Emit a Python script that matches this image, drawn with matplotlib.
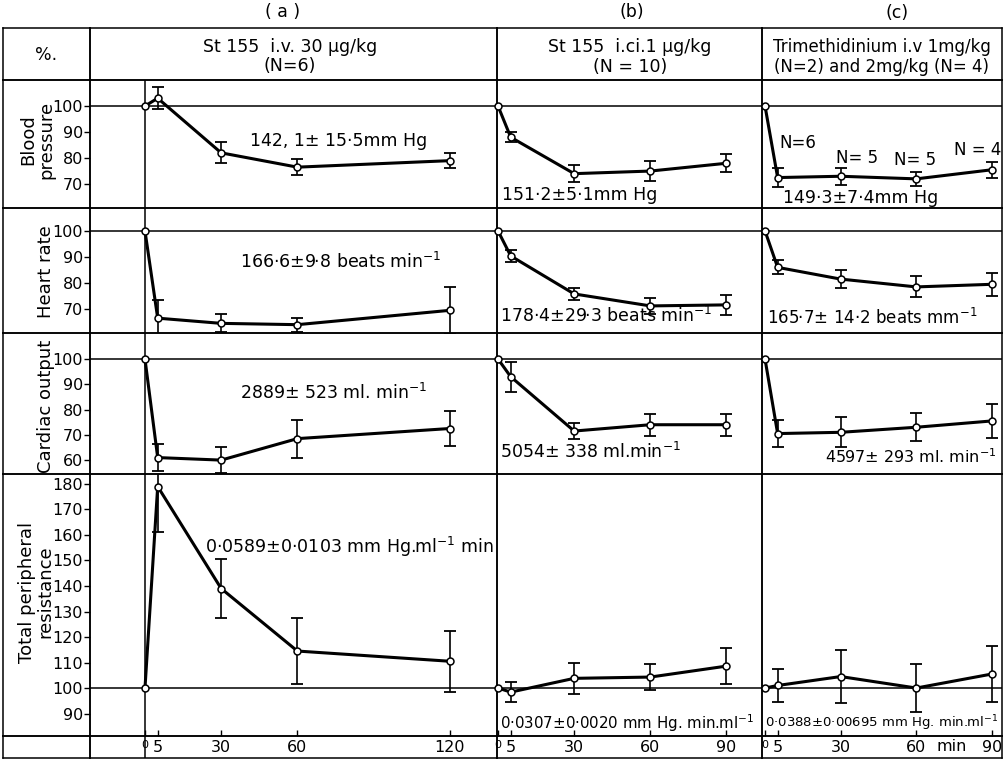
import matplotlib.pyplot as plt

plt.rcParams['font.family'] = ['DejaVu Sans']
plt.rcParams['mathtext.default'] = 'regular'

# --- time points (min) ---
times_a = [0, 5, 30, 60, 120]
times_bc = [0, 5, 30, 60, 90]

# --- (a) St 155 i.v. 30 ug/kg, % of control (mean, s.e.) ---
bp_a = [100, 103, 82, 76.5, 79]
bp_a_err = [0, 4.3, 4, 3, 3]
hr_a = [100, 66.5, 64.5, 64, 69.5]
hr_a_err = [0, 7, 3.5, 2.7, 9]
co_a = [100, 61, 60, 68.5, 72.5]
co_a_err = [0, 5.5, 5, 7.5, 7]
tpr_a = [100, 179, 139, 114.5, 110.5]
tpr_a_err = [0, 18, 11.5, 13, 12]

# --- (b) St 155 i.c.t. 1 ug/kg ---
bp_b = [100, 88, 74, 75, 78]
bp_b_err = [0, 2, 3.3, 4, 3.4]
hr_b = [100, 90.4, 75.8, 71.2, 71.6]
hr_b_err = [0, 2.3, 2.3, 3, 3.8]
co_b = [100, 93, 71.5, 74, 74]
co_b_err = [0, 6, 3, 4.3, 4.3]
tpr_b = [100, 98.4, 103.8, 104.3, 108.6]
tpr_b_err = [0, 4, 6, 5, 7]

# --- (c) Trimethidinium i.v. ---
bp_c = [100, 72.5, 73, 72, 75.5]
bp_c_err = [0, 3.5, 3.2, 2.7, 3]
hr_c = [100, 86, 81.5, 78.5, 79.5]
hr_c_err = [0, 2.7, 3.4, 4, 4.5]
co_c = [100, 70.5, 71, 73, 75.5]
co_c_err = [0, 5.5, 6, 5.5, 6.7]
tpr_c = [100, 101, 104.5, 100, 105.5]
tpr_c_err = [0, 6.5, 10.5, 9.5, 11]

bp_ticks = [70, 80, 90, 100]
hr_ticks = [70, 80, 90, 100]
co_ticks = [60, 70, 80, 90, 100]
tpr_ticks = [90, 100, 110, 120, 130, 140, 150, 160, 170, 180]

x_tick_labels_a = ['0', '5', '30', '60', '120']
x_tick_labels_bc = ['0', '5', '30', '60', '90']

W, H = 1006, 762
fig = plt.figure(figsize=(W / 100, H / 100), dpi=100)


def px_box(x0, y0, x1, y1):
    return [x0 / W, 1 - y1 / H, (x1 - x0) / W, (y1 - y0) / H]


def px_text(x, y, s, **kw):
    kw.setdefault('fontsize', 12.5)
    kw.setdefault('va', 'center')
    fig.text(x / W, 1 - y / H, s, **kw)


def cell(x0, y0, x1, y1):
    ax = fig.add_axes(px_box(x0, y0, x1, y1))
    ax.patch.set_visible(False)
    ax.set_xticks([])
    ax.set_yticks([])
    for s in ax.spines.values():
        s.set_linewidth(1.1)
    return ax


# column extents (px) and time scale of each panel
cols = {'a': (90, 497), 'b': (497, 762), 'c': (762, 1002)}
xlims = {'a': (-21.65, 138.6), 'b': (-0.4, 104.0), 'c': (-1.2, 94.0)}

rows = [
    # name, top, bottom, ylim, yticks, data per panel
    ('bp', 80, 208, (60.8, 110), bp_ticks,
     {'a': (times_a, bp_a, bp_a_err), 'b': (times_bc, bp_b, bp_b_err), 'c': (times_bc, bp_c, bp_c_err)}),
    ('hr', 208, 333, (60.8, 108.8), hr_ticks,
     {'a': (times_a, hr_a, hr_a_err), 'b': (times_bc, hr_b, hr_b_err), 'c': (times_bc, hr_c, hr_c_err)}),
    ('co', 333, 474, (54.5, 110.3), co_ticks,
     {'a': (times_a, co_a, co_a_err), 'b': (times_bc, co_b, co_b_err), 'c': (times_bc, co_c, co_c_err)}),
    ('tpr', 474, 736, (81.2, 183.9), tpr_ticks,
     {'a': (times_a, tpr_a, tpr_a_err), 'b': (times_bc, tpr_b, tpr_b_err), 'c': (times_bc, tpr_c, tpr_c_err)}),
]

# header row
cell(3, 28, 90, 80)
for p, (x0, x1) in cols.items():
    cell(x0, 28, x1, 80)

for name, top, bot, ylim, yticks, data in rows:
    cell(3, top, 90, bot)
    for p, (x0, x1) in cols.items():
        ax = cell(x0, top, x1, bot)
        ax.set_xlim(*xlims[p])
        ax.set_ylim(*ylim)
        ax.axhline(100, color='k', lw=1.1)
        if p == 'a':
            ax.axvline(0, color='k', lw=1.1)
            ax.set_yticks(yticks)
            ax.tick_params(axis='y', direction='out', length=4, width=1,
                           labelsize=11.5, pad=1)
        t, v, e = data[p]
        ax.errorbar(t[1:], v[1:], yerr=e[1:], fmt='none', ecolor='k',
                    elinewidth=1.2, capsize=4, capthick=1.3)
        ax.plot(t, v, '-o', color='k', lw=2.2, ms=5, mfc='white', mec='k',
                mew=1.1, clip_on=False, zorder=3)
        if name == 'tpr':
            ax.set_xticks(t)
            ax.set_xticklabels(x_tick_labels_a if p == 'a' else x_tick_labels_bc)
            ax.tick_params(axis='x', direction='in', length=4, width=1,
                           labelsize=11.5, pad=3)
            ax.get_xticklabels()[0].set_fontsize(8)
            if p == 'c':
                ax.text(74, -3 / 262, 'min', transform=ax.get_xaxis_transform(),
                        ha='center', va='top', fontsize=11.5)

# time axis row
cell(3, 736, 90, 758)
for p, (x0, x1) in cols.items():
    ax = cell(x0, 736, x1, 758)
    ax.set_xlim(*xlims[p])
    if p == 'a':
        ax.axvline(0, color='k', lw=1.1)

# panel letters and headers
px_text(283, 12, '( a )', ha='center')
px_text(632, 12, '(b)', ha='center')
px_text(897, 13, '(c)', ha='center')
px_text(46, 55, '%.', ha='center')
px_text(290, 47, 'St 155  i.v. 30 µg/kg', ha='center')
px_text(290, 66, '(N=6)', ha='center')
px_text(630, 47, 'St 155  i.ci.1 µg/kg', ha='center')
px_text(630, 67, '(N = 10)', ha='center')
px_text(882, 47, 'Trimethidinium i.v 1mg/kg', ha='center', fontsize=12)
px_text(882, 67, '(N=2) and 2mg/kg (N= 4)', ha='center', fontsize=12)

# row labels
lab_kw = dict(rotation=90, ha='center', fontsize=13, linespacing=1.0,
              multialignment='center')
px_text(37, 140, 'Blood\npressure', **lab_kw)
px_text(46, 272, 'Heart rate', **lab_kw)
px_text(46, 406, 'Cardiac output', **lab_kw)
px_text(36, 592, 'Total peripheral\nresistance', **lab_kw)

# control values
px_text(250, 141, '142, 1± 15·5mm Hg')
px_text(240, 262, '166·6±9·8 beats min$^{-1}$')
px_text(240, 393, '2889± 523 ml. min$^{-1}$')
px_text(205, 547, '0·0589±0·0103 mm Hg.ml$^{-1}$ min')
px_text(502, 195, '151·2±5·1mm Hg')
px_text(783, 198, '149·3±7·4mm Hg')
px_text(798, 143, 'N=6', ha='center', fontsize=12)
px_text(857, 158, 'N= 5', ha='center', fontsize=12)
px_text(915, 160, 'N= 5', ha='center', fontsize=12)
px_text(978, 150, 'N = 4', ha='center', fontsize=12)
px_text(500, 316, '178·4±29·3 beats min$^{-1}$')
px_text(767, 318, '165·7± 14·2 beats mm$^{-1}$', fontsize=12)
px_text(500, 452, '5054± 338 ml.min$^{-1}$')
px_text(997, 457, '4597± 293 ml. min$^{-1}$', ha='right', fontsize=11.5)
px_text(500, 723, '0·0307±0·0020 mm Hg. min.ml$^{-1}$', fontsize=10.8)
px_text(765, 723, '0·0388±0·00695 mm Hg. min.ml$^{-1}$', fontsize=9.5)

fig.savefig('out.png', dpi=100)
